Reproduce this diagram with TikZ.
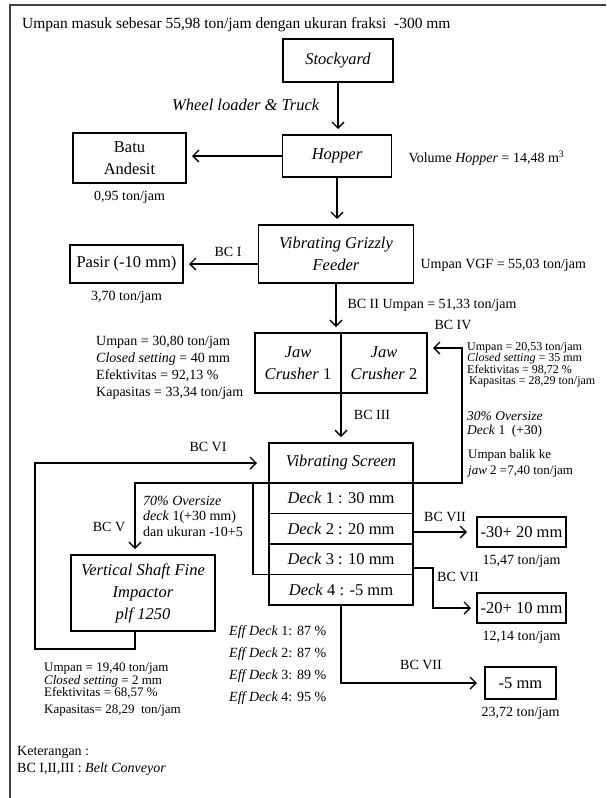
\documentclass[tikz,border=0pt]{standalone}
\usepackage{fontspec}
\setmainfont{Liberation Serif}
\usepackage{tikz}
\usetikzlibrary{arrows.meta, positioning}

\newcommand{\boxfont}{\fontsize{16.5}{22}\selectfont}
\newcommand{\txtfont}{\fontsize{14}{17}\selectfont}

\begin{document}
\begin{tikzpicture}[
    x=1pt, y=-1pt,
    box/.style={draw, line width=1.4pt, outer sep=0pt, align=center, font=\boxfont},
    deck/.style={box, minimum width=144pt, minimum height=30.5pt},
    outbox/.style={box, minimum width=89pt, minimum height=30pt},
    arrow/.style={-{Straight Barb[length=6pt,width=12pt]}, line width=1.4pt, shorten >=6pt},
    conn/.style={line width=1.4pt},
    note/.style={align=left, inner sep=0pt, anchor=north west},
    every node/.style={font=\txtfont}
]
\useasboundingbox (0,0) rectangle (606,798);

% Frame
\draw[line width=1.5pt, black!75] (10,798) |- (606,5);

% Feed
\node[anchor=base west, inner sep=0pt, font=\fontsize{15.5}{18}\selectfont] (title) at (22,28) {Umpan masuk sebesar 55,98 ton/jam dengan ukuran fraksi \ -300 mm};

\node[box, minimum width=110pt, minimum height=43pt] (stock) at (338,60.5) {\textit{Stockyard}};
\node[anchor=east, font=\boxfont] (wheel) at (323,105) {\textit{Wheel loader \& Truck}};
\node[box, minimum width=109pt, minimum height=42pt] (hopper) at (337,156) {\textit{Hopper}};
\node[anchor=west] (volume) at (405,158) {Volume \textit{Hopper} = 14,48 m\textsuperscript{3}};
\node[box, minimum width=113pt, minimum height=50pt] (batu) at (129.5,158) {Batu\\Andesit};
\node[below=5pt of batu] (batut) {0,95 ton/jam};

% Grizzly
\node[box, minimum width=155pt, minimum height=58pt] (vgf) at (336,254) {\textit{Vibrating Grizzly}\\\textit{Feeder}};
\node[anchor=west] (vgfin) at (417,265) {Umpan VGF = 55,03 ton/jam};
\node[box, minimum width=113pt, minimum height=38pt] (pasir) at (126.5,264) {Pasir (-10 mm)};
\node[below=5pt of pasir] (pasirt) {3,70 ton/jam};
\node (bc1) at (228,252) {BC I};
\node[anchor=west] (bc2) at (344,305) {BC II Umpan = 51,33 ton/jam};

% Crushers
\node[box, minimum width=86pt, minimum height=60pt] (jaw1) at (298,363) {\textit{Jaw}\\\textit{Crusher} 1};
\node[box, minimum width=86pt, minimum height=60pt, right=0pt of jaw1] (jaw2) {\textit{Jaw}\\\textit{Crusher} 2};
\node[note] (jaw1d) at (96,336) {Umpan = 30,80 ton/jam\\\textit{Closed setting} = 40 mm\\Efektivitas = 92,13 \%\\Kapasitas = 33,34 ton/jam};
\node (bc4) at (453,325) {BC IV};
\node[note, font=\fontsize{12}{11.5}\selectfont] (jaw2d) at (467,342) {Umpan = 20,53 ton/jam\\\textit{Closed setting} = 35 mm\\Efektivitas = 98,72 \%\\\hspace{2pt}Kapasitas = 28,29 ton/jam};
\node[note, font=\fontsize{13.5}{14}\selectfont] (over30) at (467,411) {\textit{30\% Oversize}\\\textit{Deck} 1 \ (+30)};
\node[note, font=\fontsize{13}{16}\selectfont] (balik) at (468,449) {Umpan balik ke\\\textit{jaw} 2 =7,40 ton/jam};
\node (bc3) at (372,415) {BC III};

% Screen
\node[box, minimum width=144pt, minimum height=40pt] (vs) at (341,463) {\textit{Vibrating Screen}};
\node[deck, below=0pt of vs] (d1) {\textit{Deck} 1 : 30 mm};
\node[deck, below=0pt of d1] (d2) {\textit{Deck} 2 : 20 mm};
\node[deck, below=0pt of d2] (d3) {\textit{Deck} 3 : 10 mm};
\node[deck, below=0pt of d3] (d4) {\textit{Deck} 4 : -5 mm};
\node[note, font=\fontsize{14}{22}\selectfont] (eff) at (229,625.5) {\textit{Eff Deck} 1: 87 \%\\\textit{Eff Deck} 2: 87 \%\\\textit{Eff Deck} 3: 89 \%\\\textit{Eff Deck} 4: 95 \%};
\node (bc6) at (208,447) {BC VI};
\node (bc5) at (109,527) {BC V};
\node[note, font=\fontsize{14}{15.5}\selectfont] (over70) at (143,495.5) {\textit{70\% Oversize}\\\textit{deck} 1(+30 mm)\\dan ukuran -10+5};

% Impactor
\node[box, minimum width=144pt, minimum height=76pt] (vsi) at (143,593) {\textit{Vertical Shaft Fine}\\\textit{Impactor}\\\textit{plf 1250}};
\node[note, font=\fontsize{13}{12.5}\selectfont] (vsid) at (44,663) {Umpan = 19,40 ton/jam\\\textit{Closed setting} = 2 mm\\Efektivitas = 68,57 \%\\[4pt]Kapasitas= 28,29 \ ton/jam};

% Products
\node[outbox] (out1) at (521.5,532) {-30+ 20 mm};
\node[below=5pt of out1] (out1t) {15,47 ton/jam};
\node[outbox] (out2) at (521.5,608) {-20+ 10 mm};
\node[below=5pt of out2] (out2t) {12,14 ton/jam};
\node[box, minimum width=71pt, minimum height=32pt] (out3) at (520.5,683) {-5 mm};
\node[below=5pt of out3] (out3t) {23,72 ton/jam};
\node (bc7a) at (445,517) {BC VII};
\node (bc7b) at (458,577) {BC VII};
\node (bc7c) at (421,665) {BC VII};

\node[note] (ket) at (17,746) {Keterangan :\\BC I,II,III : \textit{Belt Conveyor}};

% Arrows
\coordinate (ret4) at (462,348);
\coordinate (drop) at (135,0);
\coordinate (join) at (253,0);
\coordinate (ret6) at (35,649);
\coordinate (bend3) at (433,568);

\draw[arrow] (stock.south) -- (stock.south |- hopper.north);
\draw[arrow] (hopper.west) -- (batu.east |- hopper.west);
\draw[arrow] (hopper.south) -- (hopper.south |- vgf.north);
\draw[arrow] (vgf.west |- pasir.east) -- (pasir.east);
\draw[arrow] (vgf.south) -- (vgf.south |- jaw1.north);
\draw[arrow] (jaw1.south east) -- (jaw1.south east |- vs.north);
\draw[arrow] (d1.north east) -| (ret4) -- (ret4 -| jaw2.east);
\draw[arrow] (d1.north west) -| (drop |- vsi.north);
\draw[conn] (d1.north west -| join) |- (d4.north west);
\draw[arrow, shorten >=12pt] (vsi.south -| drop) |- (ret6) |- (vs.west);
\draw[arrow, shorten >=10pt] (out1.west -| d2.east) -- (out1.west);
\draw[arrow] (bend3 -| d3.east) -- (bend3) |- (out2.west);
\draw[arrow, shorten >=8pt] (d4.south) |- (out3.west);

\end{tikzpicture}
\end{document}
